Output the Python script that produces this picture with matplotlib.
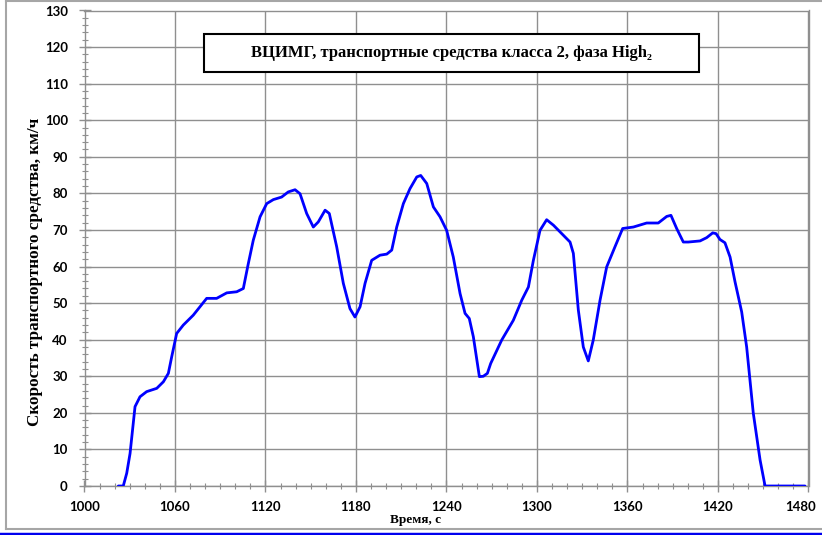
import matplotlib
matplotlib.use("Agg")
import matplotlib.pyplot as plt
import matplotlib.transforms as mtransforms
from matplotlib.lines import Line2D
from matplotlib.patches import Rectangle
from matplotlib.ticker import MultipleLocator

# Data (time, s ; speed, km/h)
time_s = [1022.4, 1025.7, 1028.0, 1030.2, 1033.5, 1036.8, 1041.2, 1047.9, 1052.3, 1055.6,
          1057.8, 1061.1, 1065.5, 1072.1, 1081.0, 1087.6, 1094.3, 1100.9, 1105.3, 1108.6,
          1111.9, 1116.4, 1120.8, 1125.2, 1130.7, 1135.1, 1139.6, 1142.9, 1147.3, 1151.7,
          1155.0, 1159.5, 1162.3, 1167.2, 1171.6, 1176.0, 1179.3, 1182.7, 1186.0, 1190.4,
          1195.9, 1200.4, 1203.7, 1207.0, 1211.4, 1215.8, 1220.3, 1222.9, 1226.9, 1231.3,
          1235.7, 1240.1, 1244.5, 1249.0, 1252.3, 1255.1, 1257.8, 1261.8, 1264.4, 1267.1,
          1269.3, 1276.6, 1284.3, 1289.9, 1294.3, 1297.6, 1302.0, 1306.4, 1310.9, 1316.4,
          1321.9, 1324.1, 1327.4, 1330.7, 1334.0, 1337.3, 1341.8, 1346.2, 1351.7, 1356.8,
          1363.9, 1372.7, 1380.4, 1386.0, 1388.8, 1392.6, 1397.0, 1400.3, 1408.1, 1412.5,
          1416.5, 1418.7, 1421.3, 1424.6, 1428.0, 1431.3, 1435.7, 1439.0, 1443.4, 1447.9,
          1451.2, 1477.7]
speed_kmh = [0.0, 0.0, 3.5, 8.9, 21.7, 24.4, 25.8, 26.7, 28.5, 30.8,
             35.3, 41.7, 44.0, 46.7, 51.3, 51.3, 52.8, 53.1, 54.0, 60.8,
             67.2, 73.6, 77.2, 78.3, 79.0, 80.4, 81.0, 79.9, 74.5, 70.8,
             72.2, 75.4, 74.5, 65.4, 55.4, 48.5, 46.2, 49.0, 55.4, 61.7,
             63.1, 63.4, 64.5, 70.8, 77.2, 81.3, 84.5, 84.9, 82.7, 76.3,
             73.6, 69.9, 62.6, 52.6, 47.2, 45.8, 40.8, 29.9, 30.0, 30.8,
             33.5, 39.9, 45.3, 50.8, 54.4, 61.7, 69.9, 72.8, 71.3, 69.0,
             66.7, 63.6, 48.1, 38.0, 34.2, 39.9, 50.8, 59.9, 65.4, 70.4,
             70.8, 71.9, 71.9, 73.7, 74.0, 70.4, 66.7, 66.7, 67.0, 67.9,
             69.2, 69.0, 67.4, 66.5, 62.6, 55.8, 47.6, 38.0, 19.9, 7.1,
             0.0, 0.0]

x_ticks = [1000, 1060, 1120, 1180, 1240, 1300, 1360, 1420, 1480]
y_ticks = list(range(0, 131, 10))

title = "ВЦИМГ, транспортные средства класса 2, фаза High\u2082"
xlabel = "Время, с"
ylabel = "Скорость транспортного средства, км/ч"

W, H = 822, 535
fig = plt.figure(figsize=(W / 100, H / 100), dpi=100)
ax = fig.add_axes([84.5 / W, (H - 486) / H, 724 / W, (486 - 10.5) / H])

grid_c = "#8f8f8f"
ax.plot(time_s, speed_kmh, color="#0000ff", lw=2.0, solid_joinstyle="round",
        solid_capstyle="round", zorder=3)

ax.set_xlim(1000, 1480)
ax.set_ylim(0, 130)
ax.set_xticks(x_ticks)
ax.set_yticks(y_ticks)
ax.xaxis.set_minor_locator(MultipleLocator(10))
ax.yaxis.set_minor_locator(MultipleLocator(2))
ax.grid(True, which="major", color=grid_c, lw=1.0)
ax.set_axisbelow(True)
for s in ax.spines.values():
    s.set_color(grid_c)
    s.set_linewidth(1.0)
ax.tick_params(which="major", direction="inout", length=8, width=1, color=grid_c)
ax.tick_params(which="minor", direction="inout", length=5, width=0.8, color=grid_c)
ax.tick_params(axis="x", which="major", pad=7)
ax.tick_params(axis="y", which="major", pad=8)

tick_font = dict(family=["Lato", "DejaVu Sans"], weight="bold", size=9.5)
ax.set_xticklabels([str(t) for t in x_ticks], **tick_font)
ax.set_yticklabels([str(t) for t in y_ticks], **tick_font)
# the last x label sits at the figure's right edge; nudge it left so it stays inside
last = ax.get_xticklabels()[-1]
last.set_transform(last.get_transform() +
                   mtransforms.ScaledTranslation(-8 / 100, 0, fig.dpi_scale_trans))

serif = ["Liberation Serif", "DejaVu Serif"]
fig.text(415 / W, 1 - 520 / H, xlabel, ha="center", va="center",
         family=serif, weight="bold", fontsize=9.5)
fig.text(35 / W, 1 - 272 / H, ylabel, ha="center", va="center", rotation=90,
         family=serif, weight="bold", fontsize=12.3)

# title box
fig.patches.append(Rectangle((204 / W, 1 - 72 / H), 495 / W, 38 / H,
                             transform=fig.transFigure, facecolor="white",
                             edgecolor="black", lw=1.5, zorder=5))
fig.text(451.5 / W, 1 - 53 / H, title, ha="center", va="center",
         family=serif, weight="bold", fontsize=12, zorder=6)

# outer border and bottom blue line
border_c = "#a6a6a6"
fig.add_artist(Line2D([6 / W, 1.0], [1 - 1 / H, 1 - 1 / H], transform=fig.transFigure,
                      color=border_c, lw=1.5))
fig.add_artist(Line2D([6 / W, 6 / W], [1 - 1 / H, 1 - 529 / H], transform=fig.transFigure,
                      color=border_c, lw=1.5))
fig.add_artist(Line2D([6 / W, 1.0], [1 - 529 / H, 1 - 529 / H], transform=fig.transFigure,
                      color=border_c, lw=1.5))
fig.add_artist(Line2D([0, 1.0], [1 - 533.5 / H, 1 - 533.5 / H], transform=fig.transFigure,
                      color="#0000ee", lw=2.5))

fig.savefig("out.png", dpi=100)
